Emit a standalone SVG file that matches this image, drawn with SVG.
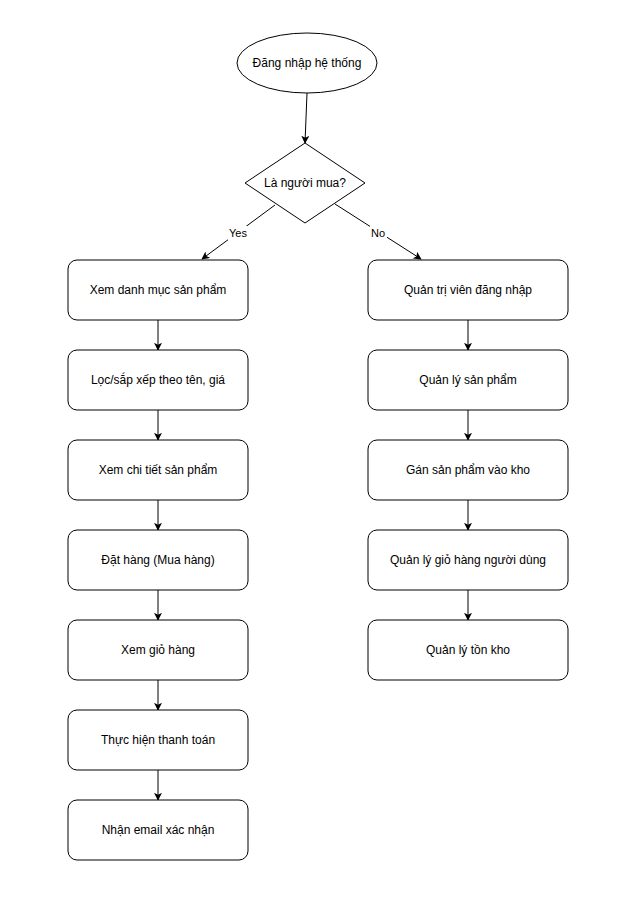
<svg xmlns="http://www.w3.org/2000/svg" width="620" height="900" viewBox="0 0 620 900">
<defs>
<style>
.n{fill:#fff;stroke:#000;stroke-width:1}
.t{font-family:"Liberation Sans",Arial,sans-serif;font-size:12px;fill:#000;text-anchor:middle;dominant-baseline:central}
.l{font-family:"Liberation Sans",Arial,sans-serif;font-size:11px;fill:#000;text-anchor:middle;dominant-baseline:central}
.e{stroke:#000;stroke-width:1;fill:none;marker-end:url(#a)}
</style>
<marker id="a" viewBox="0 0 10 10" refX="9" refY="5" markerWidth="8" markerHeight="8" markerUnits="userSpaceOnUse" orient="auto">
<path d="M0,0 L10,5 L0,10 L2.5,5 Z" fill="#000"/>
</marker>
</defs>
<rect width="620" height="900" fill="#fff"/>
<g id="connectors">
<line class="e" x1="307" y1="93" x2="305" y2="143"/>
<line class="e" x1="275" y1="205" x2="202" y2="259"/>
<line class="e" x1="335" y1="204" x2="421" y2="259"/>
<line class="e" x1="158" y1="320" x2="158" y2="350"/>
<line class="e" x1="158" y1="410" x2="158" y2="440"/>
<line class="e" x1="158" y1="500" x2="158" y2="530"/>
<line class="e" x1="158" y1="590" x2="158" y2="620"/>
<line class="e" x1="158" y1="680" x2="158" y2="710"/>
<line class="e" x1="158" y1="770" x2="158" y2="800"/>
<line class="e" x1="468" y1="320" x2="468" y2="350"/>
<line class="e" x1="468" y1="410" x2="468" y2="440"/>
<line class="e" x1="468" y1="500" x2="468" y2="530"/>
<line class="e" x1="468" y1="590" x2="468" y2="620"/>
<rect x="228" y="226" width="20" height="14" fill="#fff"/>
<text class="l" x="238" y="233">Yes</text>
<rect x="370" y="226" width="17" height="14" fill="#fff"/>
<text class="l" x="378" y="233">No</text>
</g>
<g id="start"><ellipse class="n" cx="307" cy="63" rx="70" ry="30"/><text class="t" x="307" y="63">Đăng nhập hệ thống</text></g>
<g id="decision"><polygon class="n" points="305,143 365,183 305,223 245,183"/><text class="t" x="305" y="183">Là người mua?</text></g>
<g id="b1"><rect class="n" x="68" y="260" width="180" height="60" rx="9"/><text class="t" x="158" y="290">Xem danh mục sản phẩm</text></g>
<g id="b2"><rect class="n" x="68" y="350" width="180" height="60" rx="9"/><text class="t" x="158" y="380">Lọc/sắp xếp theo tên, giá</text></g>
<g id="b3"><rect class="n" x="68" y="440" width="180" height="60" rx="9"/><text class="t" x="158" y="470">Xem chi tiết sản phẩm</text></g>
<g id="b4"><rect class="n" x="68" y="530" width="180" height="60" rx="9"/><text class="t" x="158" y="560">Đặt hàng (Mua hàng)</text></g>
<g id="b5"><rect class="n" x="68" y="620" width="180" height="60" rx="9"/><text class="t" x="158" y="650">Xem giỏ hàng</text></g>
<g id="b6"><rect class="n" x="68" y="710" width="180" height="60" rx="9"/><text class="t" x="158" y="740">Thực hiện thanh toán</text></g>
<g id="b7"><rect class="n" x="68" y="800" width="180" height="60" rx="9"/><text class="t" x="158" y="830">Nhận email xác nhận</text></g>
<g id="r1"><rect class="n" x="368" y="260" width="200" height="60" rx="9"/><text class="t" x="468" y="290">Quản trị viên đăng nhập</text></g>
<g id="r2"><rect class="n" x="368" y="350" width="200" height="60" rx="9"/><text class="t" x="468" y="380">Quản lý sản phẩm</text></g>
<g id="r3"><rect class="n" x="368" y="440" width="200" height="60" rx="9"/><text class="t" x="468" y="470">Gán sản phẩm vào kho</text></g>
<g id="r4"><rect class="n" x="368" y="530" width="200" height="60" rx="9"/><text class="t" x="468" y="560">Quản lý giỏ hàng người dùng</text></g>
<g id="r5"><rect class="n" x="368" y="620" width="200" height="60" rx="9"/><text class="t" x="468" y="650">Quản lý tồn kho</text></g>
</svg>
